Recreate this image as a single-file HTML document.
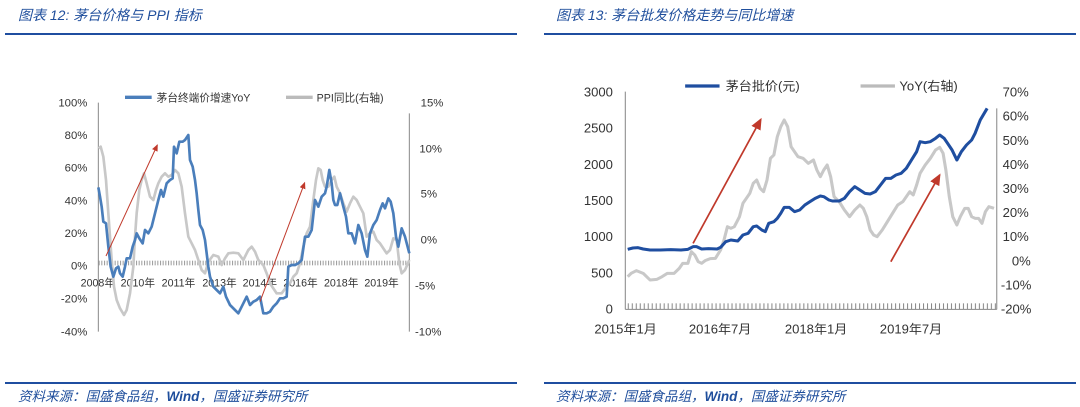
<!DOCTYPE html>
<html><head><meta charset="utf-8"><style>
body{margin:0;width:1080px;height:407px;background:#fff;position:relative;overflow:hidden;font-family:"Liberation Sans","Noto Sans CJK SC",sans-serif}
.h{position:absolute;top:5px;font-size:14px;font-style:italic;color:#1f4e9c}
.f{position:absolute;top:385px;font-size:13.5px;font-style:italic;color:#1f4e9c}
.ln{position:absolute;height:2px;background:#1f4ea0}
svg{position:absolute}
</style></head><body>
<div class="h" style="left:18px">图表 12:  茅台价格与 PPI 指标</div>
<div class="h" style="left:556px">图表 13:  茅台批发价格走势与同比增速</div>
<div class="ln" style="left:5px;width:512px;top:33px"></div>
<div class="ln" style="left:544px;width:532px;top:33px"></div>
<div class="ln" style="left:5px;width:512px;top:382px"></div>
<div class="ln" style="left:544px;width:532px;top:382px"></div>
<div class="f" style="left:18px">资料来源：国盛食品组，<b>Wind</b>，国盛证券研究所</div>
<div class="f" style="left:556px">资料来源：国盛食品组，<b>Wind</b>，国盛证券研究所</div>

<svg style="left:0;top:80px" width="540" height="270" viewBox="0 0 1620 810" font-family="Liberation Sans,Noto Sans CJK SC,sans-serif" font-size="34" fill="#333">
<defs><marker id="a" markerWidth="8" markerHeight="8" refX="6" refY="4" orient="auto" markerUnits="strokeWidth"><path d="M0,1 L7,4 L0,7z" fill="#c0392b"/></marker>
<pattern id="hp" width="8" height="16" patternUnits="userSpaceOnUse"><rect x="0" y="0" width="3" height="16" fill="#999"/></pattern></defs>
<line x1="295" y1="68" x2="295" y2="755" stroke="#888" stroke-width="3"/>
<line x1="1228" y1="100" x2="1228" y2="755" stroke="#888" stroke-width="3"/>
<rect x="295" y="542" width="933" height="14" fill="url(#hp)"/>
<g text-anchor="end"><text x="262" y="80">100%</text><text x="262" y="177">80%</text><text x="262" y="275">60%</text><text x="262" y="373">40%</text><text x="262" y="471">20%</text><text x="262" y="569">0%</text><text x="262" y="667">-20%</text><text x="262" y="767">-40%</text></g>
<g><text x="1262" y="80">15%</text><text x="1258" y="217">10%</text><text x="1262" y="353">5%</text><text x="1262" y="491">0%</text><text x="1245" y="628">-5%</text><text x="1245" y="766">-10%</text></g>
<g font-size="32"><text x="242" y="620">2008年</text><text x="362" y="620">2010年</text><text x="485" y="620">2011年</text><text x="607" y="620">2013年</text><text x="728" y="620">2014年</text><text x="850" y="620">2016年</text><text x="972" y="620">2018年</text><text x="1093" y="620">2019年</text></g>
<line x1="375" y1="52" x2="455" y2="52" stroke="#4a7ebb" stroke-width="10"/>
<text x="470" y="64" font-size="32">茅台终端价增速YoY</text>
<line x1="858" y1="52" x2="938" y2="52" stroke="#bbb" stroke-width="10"/>
<text x="950" y="64" font-size="32">PPI同比(右轴)</text>
<polyline fill="none" stroke="#c8c8c8" stroke-width="8" stroke-linejoin="round" points="295,205 302,200 310,230 318,300 325,400 330,470 335,540 342,620 350,660 360,685 372,705 380,690 390,640 400,560 405,470 410,400 418,330 425,300 432,280 440,310 450,350 460,360 468,330 475,310 485,290 495,280 505,290 515,285 525,270 535,280 545,320 555,400 565,470 575,490 585,510 595,540 605,570 615,580 625,545 640,525 655,530 665,555 675,535 685,520 700,518 715,520 730,540 745,510 755,500 765,515 775,540 790,555 800,580 810,610 820,625 830,640 845,640 860,620 870,610 880,590 890,580 900,550 910,500 920,460 930,440 940,360 948,300 955,265 962,270 968,300 975,320 985,320 995,300 1003,290 1010,320 1020,340 1030,370 1040,395 1050,370 1060,350 1070,360 1080,380 1090,400 1100,470 1110,460 1120,455 1130,480 1140,490 1150,505 1160,520 1170,510 1180,475 1190,480 1198,550 1205,580 1215,570 1228,540"/>
<polyline fill="none" stroke="#4a7ebb" stroke-width="8" stroke-linejoin="round" points="295,322 300,350 305,380 310,425 318,430 325,500 332,560 340,590 348,565 355,560 360,580 368,590 375,560 380,535 390,535 398,500 405,480 410,460 418,475 428,490 435,450 445,460 455,440 465,400 475,360 483,330 490,350 500,310 510,300 518,295 522,200 530,220 538,185 548,185 555,180 565,165 570,240 578,260 585,300 590,340 595,390 600,435 608,450 615,480 620,520 625,560 630,590 640,620 650,630 660,640 670,620 678,650 690,675 705,690 715,700 725,680 740,650 750,675 760,665 770,660 780,650 790,700 800,700 810,695 820,680 830,670 840,655 850,655 860,650 865,560 875,555 885,555 895,550 905,540 915,470 925,470 935,450 945,360 955,380 965,350 975,340 980,320 988,270 995,310 1000,360 1005,375 1012,375 1020,340 1030,380 1038,410 1045,460 1055,460 1065,490 1075,435 1085,460 1095,510 1102,530 1110,460 1120,435 1130,420 1140,390 1148,370 1155,385 1165,355 1172,365 1180,400 1188,470 1195,500 1205,445 1215,470 1228,520"/>
<line x1="318" y1="528" x2="472" y2="195" stroke="#c0392b" stroke-width="3" marker-end="url(#a)"/>
<line x1="780" y1="665" x2="914" y2="308" stroke="#c0392b" stroke-width="3" marker-end="url(#a)"/>
</svg>

<svg style="left:540px;top:70px" width="540" height="280" viewBox="0 0 1570 840" preserveAspectRatio="none" font-family="Liberation Sans,Noto Sans CJK SC,sans-serif" font-size="38" fill="#333">
<defs><marker id="b" markerWidth="8" markerHeight="8" refX="6" refY="4" orient="auto" markerUnits="strokeWidth"><path d="M0,1 L7,4 L0,7z" fill="#c0392b"/></marker>
<pattern id="tp" width="11.6" height="20" patternUnits="userSpaceOnUse"><rect x="0" y="0" width="3" height="20" fill="#888"/></pattern></defs>
<line x1="248" y1="65" x2="248" y2="718" stroke="#888" stroke-width="3"/>
<line x1="1328" y1="115" x2="1328" y2="718" stroke="#888" stroke-width="3"/>
<line x1="248" y1="718" x2="1328" y2="718" stroke="#888" stroke-width="3"/>
<rect x="250" y="700" width="1078" height="18" fill="url(#tp)"/>
<g text-anchor="end"><text x="212" y="80">3000</text><text x="212" y="188">2500</text><text x="212" y="297">2000</text><text x="212" y="405">1500</text><text x="212" y="513">1000</text><text x="212" y="622">500</text><text x="212" y="730">0</text></g>
<g><text x="1345" y="80">70%</text><text x="1345" y="152">60%</text><text x="1345" y="225">50%</text><text x="1345" y="297">40%</text><text x="1345" y="369">30%</text><text x="1345" y="441">20%</text><text x="1345" y="513">10%</text><text x="1372" y="586">0%</text><text x="1340" y="658">-10%</text><text x="1340" y="730">-20%</text></g>
<g><text x="158" y="790">2015年1月</text><text x="433" y="790">2016年7月</text><text x="712" y="790">2018年1月</text><text x="988" y="790">2019年7月</text></g>
<line x1="422" y1="48" x2="522" y2="48" stroke="#1f4ea0" stroke-width="10"/>
<text x="540" y="62">茅台批价(元)</text>
<line x1="932" y1="48" x2="1032" y2="48" stroke="#bbb" stroke-width="10"/>
<text x="1045" y="62">YoY(右轴)</text>
<polyline fill="none" stroke="#c8c8c8" stroke-width="9" stroke-linejoin="round" points="255,620 265,610 280,602 300,610 320,630 340,628 355,620 370,610 390,610 405,595 415,580 430,580 440,545 450,555 460,575 470,580 480,572 495,566 510,565 525,540 535,510 545,470 555,475 565,470 580,440 590,400 600,385 610,370 620,340 630,330 640,355 650,365 660,330 670,265 680,255 690,200 700,170 710,150 720,170 730,230 740,245 750,260 765,265 780,280 795,270 805,300 815,320 825,300 835,285 845,320 855,380 870,395 885,420 900,440 915,420 930,405 940,415 950,440 960,480 970,495 980,500 995,480 1010,455 1025,430 1040,405 1055,395 1065,380 1075,365 1085,375 1095,345 1105,310 1120,285 1135,265 1150,240 1162,232 1172,250 1180,300 1190,380 1200,440 1212,465 1222,440 1235,415 1245,415 1255,440 1265,445 1275,445 1285,460 1295,425 1305,410 1320,415"/>
<polyline fill="none" stroke="#1f4ea0" stroke-width="9" stroke-linejoin="round" points="255,538 270,534 285,533 300,537 320,540 350,540 380,539 410,540 430,538 445,530 455,530 470,537 490,536 515,537 525,532 540,515 555,510 575,513 590,495 605,490 620,470 630,468 645,480 655,485 665,460 680,455 690,445 700,430 710,412 725,412 740,425 755,420 770,405 785,395 800,385 815,378 825,380 840,390 850,393 870,393 885,385 900,365 915,350 930,360 945,370 960,372 975,365 990,345 1005,325 1020,325 1035,315 1050,310 1065,295 1080,270 1095,245 1105,215 1120,218 1135,215 1150,205 1162,195 1175,205 1185,220 1198,240 1212,270 1225,245 1240,225 1255,210 1265,190 1280,150 1300,115"/>
<line x1="445" y1="520" x2="642" y2="148" stroke="#c0392b" stroke-width="5" marker-end="url(#b)"/>
<line x1="1020" y1="575" x2="1162" y2="315" stroke="#c0392b" stroke-width="5" marker-end="url(#b)"/>
</svg>
</body></html>
